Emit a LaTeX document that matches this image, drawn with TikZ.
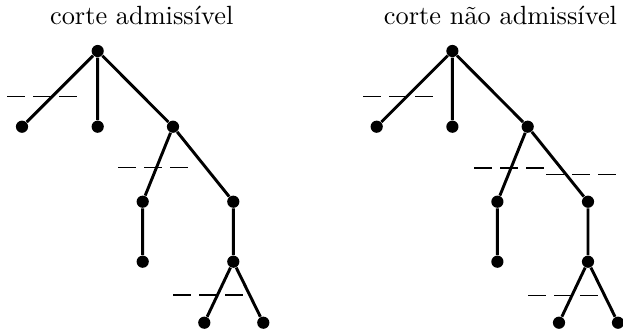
\documentclass[tikz,border=0pt]{standalone}
\begin{document}
\begin{tikzpicture}[x=0.41pt,y=-0.41pt,
  dot/.style={circle,fill=black,inner sep=0pt,minimum size=5pt},
  edge/.style={line width=1.2pt},
  cut/.style={line width=0.45pt,dash pattern=on 7.4pt off 3.3pt},
  ttl/.style={anchor=base,font=\fontsize{10.8}{13}\selectfont}]
\useasboundingbox (0,0) rectangle (623,329);
% left tree
\node[ttl] (t1) at (141.7,24) {corte admissível};
\node[dot] (r) at (97.7,51) {};
\node[dot] (a) at (22,126.7) {};
\node[dot] (b) at (97.7,126.7) {};
\node[dot] (c) at (173,126.7) {};
\node[dot] (d) at (142.7,201.7) {};
\node[dot] (e) at (233.3,201.7) {};
\node[dot] (f) at (142.7,261.7) {};
\node[dot] (g) at (233.3,261.7) {};
\node[dot] (h) at (204.3,322.7) {};
\node[dot] (i) at (263.3,322.7) {};
\draw[edge] (r)--(a) (r)--(b) (r)--(c) (c)--(d) (c)--(e) (d)--(f) (e)--(g) (g)--(h) (g)--(i);
\coordinate (c1a) at (7,96.7); \coordinate (c1b) at (77,96.7);
\coordinate (c2a) at (118,167.3); \coordinate (c2b) at (188,167.3);
\coordinate (c3a) at (173,295); \coordinate (c3b) at (243,295);
\draw[cut] (c1a)--(c1b);
\draw[cut] (c2a)--(c2b);
\draw[cut] (c3a)--(c3b);
% right tree
\begin{scope}[xshift=354.7*0.41pt]
\node[ttl] (t2) at (145.8,24) {corte não admissível};
\node[dot] (R) at (97.7,51) {};
\node[dot] (A) at (22,126.7) {};
\node[dot] (B) at (97.7,126.7) {};
\node[dot] (C) at (173,126.7) {};
\node[dot] (D) at (142.7,201.7) {};
\node[dot] (E) at (233.3,201.7) {};
\node[dot] (F) at (142.7,261.7) {};
\node[dot] (G) at (233.3,261.7) {};
\node[dot] (H) at (204.3,322.7) {};
\node[dot] (I) at (263.3,322.7) {};
\draw[edge] (R)--(A) (R)--(B) (R)--(C) (C)--(D) (C)--(E) (D)--(F) (E)--(G) (G)--(H) (G)--(I);
\coordinate (C1a) at (8.6,96.7); \coordinate (C1b) at (78.6,96.7);
\coordinate (C2a) at (119.3,168); \coordinate (C2b) at (189.3,168);
\coordinate (C3a) at (191.3,174.3); \coordinate (C3b) at (261.3,174.3);
\coordinate (C4a) at (173.6,295.3); \coordinate (C4b) at (243.6,295.3);
\draw[cut] (C1a)--(C1b);
\draw[cut] (C2a)--(C2b);
\draw[cut] (C3a)--(C3b);
\draw[cut] (C4a)--(C4b);
\end{scope}
\end{tikzpicture}
\end{document}
